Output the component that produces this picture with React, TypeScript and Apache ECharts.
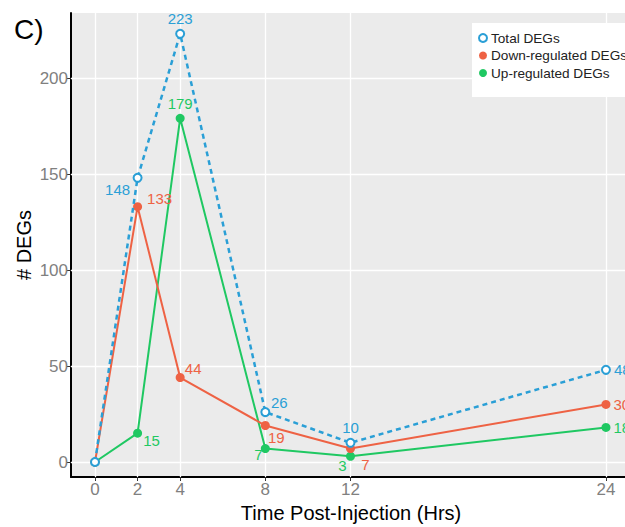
import React, { useEffect, useRef } from "react";
import * as echarts from "echarts";

const hours = [0, 2, 4, 8, 12, 24];
const totalDEGs = [0, 148, 223, 26, 10, 48];
const downDEGs = [0, 133, 44, 19, 7, 30];
const upDEGs = [0, 15, 179, 7, 3, 18];
const xTicks = [0, 2, 4, 8, 12, 24];
const yTicks = [0, 50, 100, 150, 200];

const BLUE = "#2a9fd6";
const RED = "#ee6244";
const GREEN = "#1fc862";

// label placement per point: [position, dx, dy]; null = no label
type Place = [string, number, number] | null;
const totalPlace: Place[] = [null, ["inside", -20, 12], ["top", 0, 0], ["inside", 14, -10], ["top", 0, 0], ["right", 0, 0]];
const downPlace: Place[] = [null, ["inside", 22, -8], ["inside", 13, -9], ["inside", 11, 12], ["inside", 15, 16], ["right", 0, 0]];
const upPlace: Place[] = [null, ["inside", 14, 7], ["top", 0, 0], ["inside", -7, 6], ["inside", -8, 9], ["right", 0, 0]];

function buildData(vals: number[], place: Place[], color: string) {
  return vals.map((v, i) => {
    const p = place[i];
    return {
      value: [hours[i], v],
      label: p
        ? {
            show: true,
            position: p[0],
            offset: [p[1], p[2]],
            distance: 3,
            color,
            fontSize: 15,
            fontFamily: "Liberation Sans",
            formatter: String(v),
          }
        : { show: false },
    };
  });
}

export default function App() {
  const ref = useRef<HTMLDivElement>(null);
  useEffect(() => {
    if (!ref.current) return;
    const chart = echarts.init(ref.current, null, { renderer: "svg" });
    const gridLeft = 71;
    const gridTop = 13;
    const pxPerHr = 21.29;
    const pxPerUnit = 1.92;
    const x0 = 95;
    const y0 = 462;
    const xMin = -(x0 - gridLeft) / pxPerHr;
    const xMax = (625 - x0) / pxPerHr;
    const yMax = (y0 - gridTop) / pxPerUnit;
    const yMin = -(477 - y0) / pxPerUnit;

    chart.setOption({
      animation: false,
      backgroundColor: "#ffffff",
      textStyle: { fontFamily: "Liberation Sans" },
      grid: {
        left: gridLeft,
        top: gridTop,
        right: 0,
        bottom: 50,
        show: true,
        backgroundColor: "#ebebeb",
        borderWidth: 0,
      },
      xAxis: {
        type: "value",
        min: xMin,
        max: xMax,
        splitLine: { show: false },
        axisLine: { show: true, onZero: false, lineStyle: { color: "#000", width: 2 } },
        axisTick: { show: true, customValues: xTicks, length: 4, lineStyle: { color: "#333", width: 1 } },
        axisLabel: { customValues: xTicks, color: "#808080", fontSize: 17, margin: 4, fontFamily: "Liberation Sans" },
      },
      yAxis: {
        type: "value",
        min: yMin,
        max: yMax,
        splitLine: { show: false },
        axisLine: { show: true, onZero: false, lineStyle: { color: "#000", width: 2 } },
        axisTick: { show: true, customValues: yTicks, length: 4, lineStyle: { color: "#333", width: 1 } },
        axisLabel: { customValues: yTicks, color: "#808080", fontSize: 17, margin: 3, fontFamily: "Liberation Sans" },
      },
      legend: {
        orient: "vertical",
        left: 472,
        top: 23,
        padding: [8, 14, 17, 6],
        backgroundColor: "#ffffff",
        itemWidth: 8,
        itemHeight: 8,
        itemGap: 3.5,
        textStyle: { fontSize: 13.6, color: "#222", lineHeight: 14, fontFamily: "Liberation Sans", padding: [0, 0, 0, -1] },
        data: [
          { name: "Total DEGs", icon: "emptyCircle" },
          { name: "Down-regulated DEGs", icon: "circle" },
          { name: "Up-regulated DEGs", icon: "circle" },
        ],
      },
      graphic: [
        { type: "text", left: 14, top: 15, style: { text: "C)", fontSize: 28, fill: "#000", fontFamily: "Liberation Sans" } },
        {
          type: "text",
          x: 24,
          y: 245,
          rotation: Math.PI / 2,
          style: { text: "# DEGs", fontSize: 20, fill: "#000", fontFamily: "Liberation Sans", align: "center", verticalAlign: "middle" },
        },
        {
          type: "text",
          x: 351,
          y: 513,
          style: { text: "Time Post-Injection (Hrs)", fontSize: 20, fill: "#000", fontFamily: "Liberation Sans", align: "center", verticalAlign: "middle" },
        },
      ],
      series: [
        {
          name: "grid",
          type: "line",
          data: [],
          z: 1,
          silent: true,
          markLine: {
            silent: true,
            z: 1,
            symbol: ["none", "none"],
            label: { show: false },
            lineStyle: { color: "#ffffff", width: 1.3, type: "solid" },
            emphasis: { disabled: true },
            data: [
              ...xTicks.map((v) => ({ xAxis: v })),
              ...yTicks.map((v) => ({ yAxis: v })),
            ],
          },
        },
        {
          name: "Up-regulated DEGs",
          type: "line",
          z: 3,
          data: buildData(upDEGs, upPlace, GREEN),
          symbol: "circle",
          symbolSize: 9,
          itemStyle: { color: GREEN },
          lineStyle: { color: GREEN, width: 2 },
        },
        {
          name: "Down-regulated DEGs",
          type: "line",
          z: 4,
          data: buildData(downDEGs, downPlace, RED),
          symbol: "circle",
          symbolSize: 9,
          itemStyle: { color: RED },
          lineStyle: { color: RED, width: 2 },
        },
        {
          name: "Total DEGs",
          type: "line",
          z: 5,
          data: buildData(totalDEGs, totalPlace, BLUE),
          symbol: "emptyCircle",
          symbolSize: 8,
          showAllSymbol: true,
          itemStyle: { color: BLUE, borderWidth: 2, borderColor: BLUE },
          lineStyle: { color: BLUE, width: 2.5, type: [5, 4] },
        },
      ],
    });
    return () => chart.dispose();
  }, []);
  return <div ref={ref} style={{ width: 625, height: 527, position: "absolute", left: 0, top: 0 }} />;
}
